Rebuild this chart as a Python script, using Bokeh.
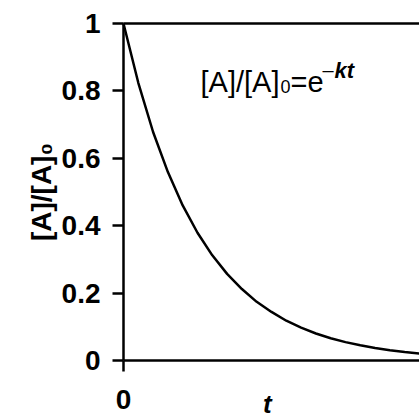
from bokeh.plotting import figure
from bokeh.models import Range1d, FixedTicker, Label, LinearAxis
from bokeh.embed import file_html
from bokeh.resources import INLINE

# values
t_values = [0, 0.5, 1, 1.5, 2, 2.5, 3, 3.5, 4, 4.5, 5, 5.5, 6, 6.5, 7, 7.5, 8, 8.5, 9, 9.5, 10]
ratio_values = [1.0, 0.824, 0.678, 0.559, 0.460, 0.379, 0.312, 0.257, 0.212, 0.174,
                0.144, 0.118, 0.0975, 0.080, 0.066, 0.0545, 0.0449, 0.037, 0.0304, 0.025, 0.0206]
y_ticks = [0, 0.2, 0.4, 0.6, 0.8, 1]
y_tick_labels = {0: "0", 0.2: "0.2", 0.4: "0.4", 0.6: "0.6", 0.8: "0.8", 1: "1"}
x_ticks = [0]
t_max = 10
ratio_max = 1

FONT = "Liberation Sans"

p = figure(width=419, height=416, output_backend="svg", toolbar_location=None,
           x_range=Range1d(-4.155, 10), y_range=Range1d(-0.1663, 1.0683),
           min_border_left=0, min_border_right=0, min_border_top=0, min_border_bottom=0)
p.outline_line_color = None
p.xgrid.visible = False
p.ygrid.visible = False
p.background_fill_color = "white"
p.border_fill_color = "white"

p.line(t_values, ratio_values, line_color="black", line_width=2.5)

xax = p.below[0]
yax = p.left[0]

for ax in (xax, yax):
    ax.axis_line_color = "black"
    ax.axis_line_width = 2.5
    ax.major_tick_line_color = "black"
    ax.major_tick_line_width = 2.5
    ax.major_tick_out = 11
    ax.major_tick_in = 0
    ax.minor_tick_line_color = None
    ax.major_label_text_font = FONT
    ax.major_label_text_font_size = "28px"
    ax.major_label_text_font_style = "bold"
    ax.major_label_text_color = "black"

yax.ticker = FixedTicker(ticks=y_ticks)
yax.fixed_location = 0
yax.bounds = (0, ratio_max)
yax.major_label_overrides = y_tick_labels
yax.major_label_standoff = 12
yax.axis_label = "[A]/[A]\u2080"
yax.axis_label_text_font = FONT
yax.axis_label_text_font_size = "28px"
yax.axis_label_text_font_style = "bold"
yax.axis_label_text_color = "black"
yax.axis_label_standoff = 2

xax.ticker = FixedTicker(ticks=x_ticks)
xax.fixed_location = 0
xax.bounds = (0, t_max)
xax.major_label_standoff = 19

# top boundary line drawn as an axis without ticks or labels
top_axis = LinearAxis(ticker=FixedTicker(ticks=[]), fixed_location=ratio_max,
                      bounds=(0, t_max), major_label_text_font_size="0px",
                      axis_line_color="black", axis_line_width=2.5,
                      major_tick_line_color=None, minor_tick_line_color=None)
p.add_layout(top_axis, "above")

# x axis title
p.add_layout(Label(x=4.86, y=-0.128, text="t", text_font=FONT, text_font_size="26px",
                   text_font_style="bold italic", text_align="center",
                   text_baseline="alphabetic", text_color="black"))

# equation annotation
p.add_layout(Label(x=2.601, y=0.826, text="[A]/[A]", text_font=FONT, text_font_size="29px",
                   text_baseline="alphabetic", text_color="black"))
p.add_layout(Label(x=5.304, y=0.814, text="0", text_font=FONT, text_font_size="18px",
                   text_baseline="alphabetic", text_color="black"))
p.add_layout(Label(x=5.642, y=0.826, text="=e", text_font=FONT, text_font_size="29px",
                   text_baseline="alphabetic", text_color="black"))
p.add_layout(Label(x=6.723, y=0.862, text="\u2013", text_font=FONT, text_font_size="20px",
                   text_baseline="alphabetic", text_color="black"))
p.add_layout(Label(x=7.128, y=0.862, text="kt", text_font=FONT, text_font_size="22px",
                   text_font_style="bold italic", text_baseline="alphabetic", text_color="black"))

open("out.html", "w").write(file_html(p, INLINE))
